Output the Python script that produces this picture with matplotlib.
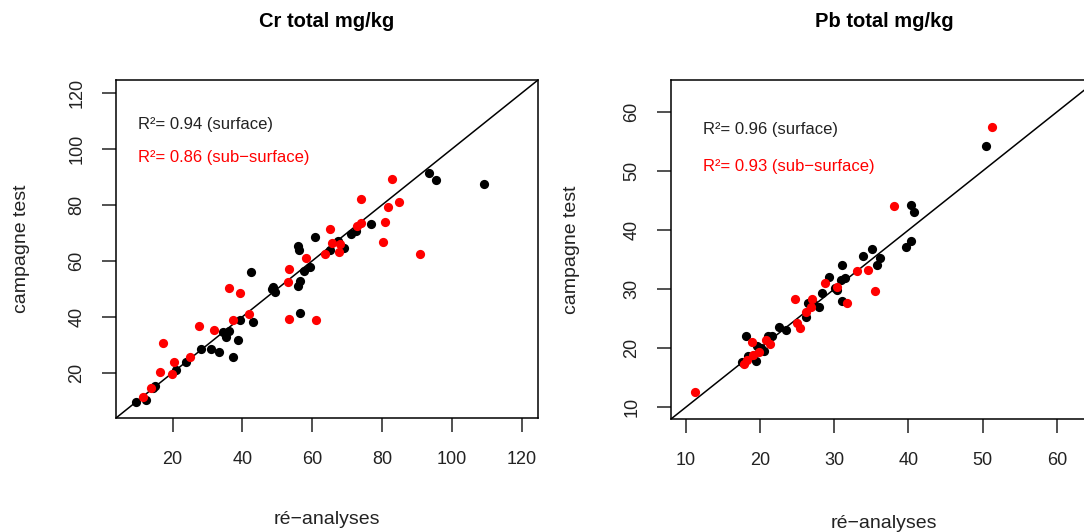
import matplotlib
matplotlib.use("Agg")
import matplotlib.pyplot as plt

plt.rcParams['font.family'] = ['Liberation Sans', 'DejaVu Sans']

# Cr total mg/kg : surface (black) and sub-surface (red)
cr_surf_x = [9.6, 12.4, 15.1, 14.3, 20.9, 23.8, 28.2, 31.1, 33.3, 34.5, 35.2, 36.1, 37.3,
             38.8, 39.4, 42.9, 42.4, 48.4, 49.2, 48.7, 56.0, 56.3, 56.5, 56.0, 57.5, 59.4,
             56.6, 60.8, 65.2, 69.0, 71.2, 72.6, 76.9, 93.3, 95.4, 109.1, 67.4]
cr_surf_y = [9.4, 10.2, 15.2, 14.4, 21.0, 23.7, 28.4, 28.4, 27.5, 34.7, 32.9, 35.0, 25.7,
             31.5, 38.9, 38.0, 56.0, 49.8, 48.8, 50.5, 65.3, 63.9, 52.9, 51.1, 56.3, 57.7,
             41.2, 68.4, 63.7, 64.7, 69.6, 70.5, 73.2, 91.4, 88.7, 87.5, 67.1]
cr_sub_x = [11.5, 13.8, 16.4, 17.2, 19.8, 20.5, 25.0, 27.7, 31.8, 36.1, 39.4, 37.3, 42.0,
            53.3, 53.1, 53.4, 58.2, 61.0, 63.6, 65.2, 65.7, 67.9, 67.7, 72.9, 74.0, 74.0,
            80.2, 80.9, 81.6, 82.7, 84.7, 90.9]
cr_sub_y = [11.2, 14.6, 20.4, 30.7, 19.4, 23.7, 25.7, 36.7, 35.3, 50.3, 48.4, 38.9, 41.0,
            57.1, 52.3, 39.2, 61.1, 38.9, 62.4, 71.3, 66.5, 65.9, 63.3, 72.3, 73.5, 81.9,
            66.7, 73.9, 79.2, 89.3, 80.9, 62.4]

# Pb total mg/kg
pb_surf_x = [17.5, 18.1, 18.4, 19.5, 19.6, 20.1, 20.5, 21.1, 21.6, 22.6, 23.5, 26.2, 26.4,
             27.9, 28.3, 29.3, 30.4, 30.9, 31.1, 31.5, 31.0, 33.9, 35.1, 36.1, 35.8, 39.7,
             40.4, 40.3, 40.7, 50.5, 27.2, 30.1]
pb_surf_y = [17.6, 22.0, 18.7, 17.8, 20.3, 20.0, 19.5, 22.0, 22.1, 23.5, 23.0, 25.2, 27.7,
             27.0, 29.4, 32.0, 29.8, 31.5, 34.0, 31.9, 28.0, 35.6, 36.8, 35.2, 34.0, 37.2,
             38.1, 44.3, 43.1, 54.3, 27.6, 30.1]
pb_sub_x = [11.2, 17.9, 18.2, 18.9, 19.1, 19.9, 20.8, 21.4, 24.7, 25.0, 25.4, 26.2, 26.8,
            27.0, 28.8, 30.4, 31.7, 33.0, 34.6, 35.5, 38.1, 51.3]
pb_sub_y = [12.5, 17.3, 18.0, 21.1, 18.9, 19.4, 21.4, 20.7, 28.3, 24.2, 23.4, 26.1, 27.0,
            28.4, 31.1, 30.3, 27.7, 33.1, 33.3, 29.7, 44.0, 57.4]

cr_ticks = [20, 40, 60, 80, 100, 120]
pb_ticks = [10, 20, 30, 40, 50, 60]

W, H = 1084, 532
fig = plt.figure(figsize=(W / 100, H / 100), dpi=100)
txtcol = '#222222'


def panel(rect, sx, sy, rx, ry, lim, ticks, title, r2s, r2r, txt_xy):
    ax = fig.add_axes(rect)
    ax.scatter(sx, sy, s=44, color='black', zorder=3, linewidths=0)
    ax.scatter(rx, ry, s=44, color='#ff0000', zorder=3, linewidths=0)
    ax.axline((0, 0), slope=1, color='black', lw=1.1, zorder=2)
    ax.set_xlim(lim)
    ax.set_ylim(lim)
    ax.set_xticks(ticks)
    ax.set_yticks(ticks)
    ax.tick_params(direction='out', length=10, width=1.1, labelsize=13,
                   labelcolor=txtcol, color='#222222')
    ax.tick_params(axis='x', pad=14)
    ax.tick_params(axis='y', pad=12)
    for lab in ax.get_yticklabels():
        lab.set_rotation(90)
        lab.set_va('center')
    for sp in ax.spines.values():
        sp.set_linewidth(1.1)
    ax.text(txt_xy[0], txt_xy[1], r2s, color=txtcol, fontsize=12, va='center', ha='left')
    ax.text(txt_xy[0], txt_xy[2], r2r, color='#ff0000', fontsize=12, va='center', ha='left')
    ax.text(0.5, 1.172, title, transform=ax.transAxes, ha='center', va='center',
            fontsize=14.5, fontweight='bold')
    return ax


ax1 = panel([116 / W, 114 / H, 422 / W, 338 / H], cr_surf_x, cr_surf_y, cr_sub_x, cr_sub_y,
            (3.8, 124.6), cr_ticks, "Cr total mg/kg",
            "R²= 0.94 (surface)", "R²= 0.86 (sub\u2212surface)", (10.1, 108.6, 96.8))
ax1.set_xlabel("ré\u2212analyses", fontsize=14, color=txtcol)
ax1.set_ylabel("campagne test", fontsize=14, color=txtcol)
ax1.xaxis.set_label_coords(0.5, -102 / 338)
ax1.yaxis.set_label_coords(-94 / 422, 0.5)

ax2 = panel([671 / W, 113 / H, 426 / W, 339 / H], pb_surf_x, pb_surf_y, pb_sub_x, pb_sub_y,
            (8.0, 65.4), pb_ticks, "Pb total mg/kg",
            "R²= 0.96 (surface)", "R²= 0.93 (sub\u2212surface)", (12.3, 57.1, 50.8))
ax2.set_xlabel("ré\u2212analyses", fontsize=14, color=txtcol)
ax2.set_ylabel("campagne test", fontsize=14, color=txtcol)
ax2.xaxis.set_label_coords(0.5, -104 / 339)
ax2.yaxis.set_label_coords(-99 / 426, 0.5)

for ax in (ax1, ax2):
    ax.xaxis.label.set_va('center')
    ax.yaxis.label.set_va('center')

fig.savefig("out.png", dpi=100)
